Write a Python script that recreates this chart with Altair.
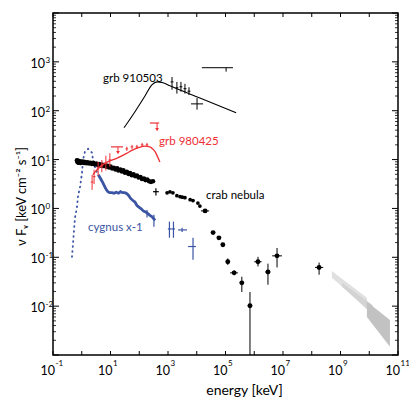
import altair as alt
import pandas as pd

FONT = "Lato"
W, H = 345, 342
BLUE = "#3b55a4"
RED = "#ee3035"
X_DOM = [1e-1, 1e11]
Y_DOM = [1e-3, 1e4]

# ---------------- data ----------------
# Crab nebula: dense X-ray band
crab_band_e = [0.68, 0.72, 0.76, 0.8, 0.85, 0.9, 0.95, 1.0, 1.1, 1.2, 1.3, 1.45, 1.6, 1.8, 2.0,
               2.25, 2.5, 2.8, 3.2, 3.6, 4.0, 4.5, 5.0, 5.6, 6.3, 7.1, 8.0, 9.0, 10,
               11.5, 13, 15, 17, 19, 22, 25, 28, 32, 37, 42, 48, 55, 63,
               72, 83, 95, 110, 125, 145, 165, 190, 220, 255, 300]
crab_band_f = [9.6, 8.8, 9.4, 8.6, 9.2, 8.5, 9.0, 8.8, 9.1, 8.5, 8.9, 8.4, 8.8, 8.3, 8.6,
               8.2, 8.6, 8.0, 8.3, 7.8, 8.1, 7.6, 7.9, 7.4, 7.7, 7.2, 7.4, 6.9, 7.2,
               6.6, 6.8, 6.3, 6.6, 6.0, 6.2, 5.7, 6.0, 5.4, 5.6, 5.1, 5.3, 4.8, 5.0,
               4.6, 4.7, 4.3, 4.4, 4.0, 4.1, 3.8, 3.9, 3.6, 3.5, 3.6]
# Crab nebula: 1-15 MeV points
crab_mid_e = [930, 1170, 1480, 2040, 2630, 3160, 3890, 5890, 7410, 10960, 12880]
crab_mid_f = [2.09, 2.19, 2.09, 1.82, 1.74, 1.70, 1.66, 1.51, 1.45, 1.29, 1.12]
# Crab nebula: points with error bars
crab_err_e = [1.95e4, 3.7e4, 5.9e4, 8.1e4, 1.2e5, 2.0e5, 3.7e5, 7.1e5, 1.35e6, 3.0e6, 6.2e6, 1.8e8]
crab_err_f = [0.89, 0.32, 0.25, 0.18, 0.081, 0.048, 0.030, 0.0102, 0.081, 0.050, 0.107, 0.062]
crab_err_elo = [1.4e4, 3.5e4, 5.6e4, 7.7e4, 1.05e5, 1.45e5, 3.1e5, 5.9e5, 1.0e6, 2.4e6, 4.2e6, 1.3e8]
crab_err_ehi = [2.7e4, 3.9e4, 6.2e4, 8.5e4, 1.4e5, 2.7e5, 4.4e5, 8.5e5, 1.8e6, 3.6e6, 9.2e6, 2.5e8]
crab_err_flo = [0.86, 0.31, 0.24, 0.175, 0.07, 0.043, 0.0195, 0.001, 0.065, 0.0275, 0.062, 0.044]
crab_err_fhi = [0.92, 0.33, 0.26, 0.185, 0.095, 0.054, 0.040, 0.0195, 0.102, 0.074, 0.155, 0.078]
# Crab nebula: single cross without dot
crab_cross_e = [380]
crab_cross_f = [2.2]
crab_cross_elo = [300]
crab_cross_ehi = [480]
crab_cross_flo = [1.85]
crab_cross_fhi = [2.6]

# Cygnus X-1: dotted soft component
cyg_dot_e = [0.457, 0.582, 0.684, 0.741, 0.871, 1.02, 1.10, 1.29, 1.66, 2.29, 2.45, 2.88, 3.72]
cyg_dot_f = [0.102, 0.646, 1.07, 1.74, 2.75, 5.37, 9.77, 14.5, 16.6, 13.8, 9.77, 7.08, 4.90]
# Cygnus X-1: hard X-ray spectrum
cyg_e = [3.72, 4.0, 4.6, 5.5, 6.3, 7.2, 8.1, 9.3, 11.2, 13.2, 15.8, 19.1, 22.4, 26.3, 31.6, 37.2,
         42.7, 50.1, 60.3, 70.8, 83.2, 100, 117, 141, 166, 200, 234, 275, 316, 355]
cyg_f = [4.9, 4.6, 4.0, 3.3, 2.8, 2.4, 2.2, 2.1, 2.1, 2.05, 2.15, 2.05, 2.2, 2.1, 2.1, 2.0,
         1.85, 1.6, 1.45, 1.35, 1.15, 1.05, 0.98, 0.88, 0.85, 0.78, 0.72, 0.68, 0.62, 0.57]
cyg_bar_e = [186, 324]
cyg_bar_flo = [0.65, 0.42]
cyg_bar_fhi = [0.93, 0.74]
# Cygnus X-1: MeV crosses
cyg_x_e = [1122, 1549, 3090, 7413]
cyg_x_f = [0.38, 0.38, 0.363, 0.166]
cyg_x_elo = [990, 1300, 2239, 5012]
cyg_x_ehi = [1300, 1750, 4571, 9333]
cyg_x_flo = [0.251, 0.251, 0.33, 0.089]
cyg_x_fhi = [0.537, 0.537, 0.40, 0.251]

# GRB 980425: model curve
g98_curve_e = [2.45, 4.3, 8, 17, 35, 60, 100, 160, 234, 300, 355, 430, 525]
g98_curve_f = [4.9, 7.1, 9.0, 10.7, 13.2, 15.8, 17.8, 18.8, 18.2, 16.3, 14.5, 11.5, 8.9]
# GRB 980425: data
g98_e = [2.29, 2.69, 3.72, 5.0, 6.9, 9.5, 37, 56, 83, 126, 186]
g98_f = [3.47, 4.47, 6.76, 7.4, 8.5, 9.8, 16.6, 18.2, 18.2, 20.0, 20.0]
g98_elo = [2.05, 2.4, 3.3, 4.5, 6.2, 8.5, 33, 50, 75, 113, 168]
g98_ehi = [2.55, 3.0, 4.2, 5.6, 7.7, 10.6, 41, 62, 92, 140, 206]
g98_flo = [2.4, 3.16, 4.68, 5.5, 6.0, 7.1, 15.0, 16.5, 16.5, 18.2, 18.2]
g98_fhi = [4.9, 6.17, 8.9, 9.8, 12.0, 13.5, 18.4, 20.0, 20.0, 22.0, 22.0]
# GRB 980425: upper limits
ul_e = [18.2, 417]
ul_elo = [10.4, 234]
ul_ehi = [27.2, 490]
ul_f = [18.2, 56]
ul_ftip = [13.8, 41]

# GRB 910503: model curve
g91_curve_e = [29.5, 71, 158, 275, 417, 676, 1175, 12900, 2.34e5]
g91_curve_f = [44.7, 95.5, 200, 339, 389, 372, 324, 182, 91]
# GRB 910503: data crosses
g91_e = [1380, 2040, 2820, 3890, 5370, 10230, 1.05e5]
g91_f = [389, 295, 309, 282, 251, 138, 759]
g91_elo = [1230, 1820, 2510, 3470, 4790, 6310, 1.51e4]
g91_ehi = [1550, 2290, 3160, 4370, 6030, 16600, 1.82e5]
g91_flo = [269, 224, 245, 224, 209, 105, 631]
g91_fhi = [490, 389, 389, 355, 302, 182, 759]

# GeV butterflies
band_name = ["a", "a", "b", "b", "c", "c"]
band_e = [5.0e8, 8.3e9, 1.12e9, 1.3e10, 8.3e9, 5.25e10]
band_top = [0.0525, 0.0148, 0.0302, 0.0105, 0.0123, 0.0052]
band_bot = [0.038, 0.0093, 0.0251, 0.0068, 0.0060, 0.00148]
band_colors = ["#e0e0e0", "#d3d3d3", "#c2c2c2"]

# labels
label_text = ["grb 910503", "grb 980425", "crab nebula", "cygnus x-1"]
label_e = [5.5, 490, 2.09e4, 1.66]
label_f = [447, 22.9, 1.82, 0.40]
label_color = ["black", RED, "black", BLUE]

# axis ticks
x_ticks = [10.0 ** k for k in range(-1, 12)]
x_label_vals = [1e-1, 1e1, 1e3, 1e5, 1e7, 1e9, 1e11]
x_label_exp = ["-1", "1", "3", "5", "7", "9", "11"]
y_major = [10.0 ** k for k in range(-3, 5)]
y_minor = [m * 10.0 ** k for k in range(-3, 4) for m in range(2, 10)]
y_label_vals = [1e-2, 1e-1, 1, 1e1, 1e2, 1e3]
y_label_exp = ["-2", "-1", "0", "1", "2", "3"]

# ---------------- encodings ----------------
x_axis = alt.Axis(title="energy [keV]", labels=False, ticks=False, domain=False, grid=False,
                  titleFont=FONT, titleFontSize=14, titleFontWeight="normal", titleColor="black",
                  titleX=191, titleY=35, titleBaseline="middle", titleAlign="center")
y_axis = alt.Axis(title="ν Fᵥ [keV cm⁻² s⁻¹]", labels=False, ticks=False, domain=False, grid=False,
                  titleFont=FONT, titleFontSize=13, titleFontWeight="normal", titleColor="black",
                  titleX=-32, titleY=183, titleBaseline="middle", titleAlign="center", titleAngle=270)


def X(f):
    return alt.X(f, type="quantitative", scale=alt.Scale(type="log", domain=X_DOM, nice=False),
                 axis=x_axis)


def Y(f):
    return alt.Y(f, type="quantitative", scale=alt.Scale(type="log", domain=Y_DOM, nice=False),
                 axis=y_axis)


def errbars(df, color, width=1.0):
    c = alt.Chart(df)
    h = c.mark_rule(color=color, strokeWidth=width).encode(x=X("elo"), x2="ehi", y=Y("f"))
    v = c.mark_rule(color=color, strokeWidth=width).encode(x=X("e"), y=Y("flo"), y2="fhi")
    return [h, v]


layers = []

# gray butterflies
bands = pd.DataFrame({"band": band_name, "e": band_e, "top": band_top, "bot": band_bot})
layers.append(alt.Chart(bands).mark_area(opacity=1).encode(
    x=X("e"), y=Y("top"), y2="bot",
    color=alt.Color("band:N", scale=alt.Scale(domain=["a", "b", "c"], range=band_colors), legend=None)))

# Cygnus X-1
layers.append(alt.Chart(pd.DataFrame({"e": cyg_dot_e, "f": cyg_dot_f})).mark_line(
    color=BLUE, strokeWidth=1.8, strokeDash=[0.8, 4.2], strokeCap="round").encode(x=X("e"), y=Y("f")))
layers.append(alt.Chart(pd.DataFrame({"e": cyg_e, "f": cyg_f})).mark_line(
    color=BLUE, strokeWidth=2.8).encode(x=X("e"), y=Y("f")))
layers.append(alt.Chart(pd.DataFrame({"e": cyg_bar_e, "flo": cyg_bar_flo, "fhi": cyg_bar_fhi})).mark_rule(
    color=BLUE, strokeWidth=1.2).encode(x=X("e"), y=Y("flo"), y2="fhi"))
cygx = pd.DataFrame({"e": cyg_x_e, "f": cyg_x_f, "elo": cyg_x_elo, "ehi": cyg_x_ehi,
                     "flo": cyg_x_flo, "fhi": cyg_x_fhi})
layers += errbars(cygx, BLUE, 1.2)

# Crab nebula
layers.append(alt.Chart(pd.DataFrame({"e": crab_band_e, "f": crab_band_f})).mark_circle(
    color="black", size=22, opacity=1).encode(x=X("e"), y=Y("f")))
layers.append(alt.Chart(pd.DataFrame({"e": crab_mid_e, "f": crab_mid_f})).mark_circle(
    color="black", size=14, opacity=1).encode(x=X("e"), y=Y("f")))
crabe = pd.DataFrame({"e": crab_err_e, "f": crab_err_f, "elo": crab_err_elo, "ehi": crab_err_ehi,
                      "flo": crab_err_flo, "fhi": crab_err_fhi})
layers += errbars(crabe, "black", 1.0)
layers.append(alt.Chart(crabe).mark_circle(color="black", size=24, opacity=1).encode(x=X("e"), y=Y("f")))
crabc = pd.DataFrame({"e": crab_cross_e, "f": crab_cross_f, "elo": crab_cross_elo, "ehi": crab_cross_ehi,
                      "flo": crab_cross_flo, "fhi": crab_cross_fhi})
layers += errbars(crabc, "black", 1.2)

# GRB 980425
layers.append(alt.Chart(pd.DataFrame({"e": g98_curve_e, "f": g98_curve_f})).mark_line(
    color=RED, strokeWidth=1.3, interpolate="monotone").encode(x=X("e"), y=Y("f")))
g98 = pd.DataFrame({"e": g98_e, "f": g98_f, "elo": g98_elo, "ehi": g98_ehi, "flo": g98_flo, "fhi": g98_fhi})
layers += errbars(g98, RED, 1.0)
ul = pd.DataFrame({"e": ul_e, "elo": ul_elo, "ehi": ul_ehi, "f": ul_f, "ftip": ul_ftip})
layers.append(alt.Chart(ul).mark_rule(color=RED, strokeWidth=1.2).encode(x=X("elo"), x2="ehi", y=Y("f")))
layers.append(alt.Chart(ul).mark_rule(color=RED, strokeWidth=1.0).encode(x=X("e"), y=Y("f"), y2="ftip"))
layers.append(alt.Chart(ul).mark_point(color=RED, shape="triangle-down", filled=True, size=14, opacity=1).encode(
    x=X("e"), y=Y("ftip")))

# GRB 910503
layers.append(alt.Chart(pd.DataFrame({"e": g91_curve_e, "f": g91_curve_f})).mark_line(
    color="black", strokeWidth=1.1, interpolate="monotone").encode(x=X("e"), y=Y("f")))
g91 = pd.DataFrame({"e": g91_e, "f": g91_f, "elo": g91_elo, "ehi": g91_ehi, "flo": g91_flo, "fhi": g91_fhi})
layers += errbars(g91, "black", 1.0)

# source labels
labs = pd.DataFrame({"t": label_text, "e": label_e, "f": label_f, "c": label_color})
layers.append(alt.Chart(labs).mark_text(align="left", baseline="middle", font=FONT, fontSize=11.5).encode(
    x=X("e"), y=Y("f"), text="t:N", color=alt.Color("c:N", scale=None)))

# ticks (inward, mirrored)
xt = alt.Chart(pd.DataFrame({"v": x_ticks}))
layers.append(xt.mark_rule(color="black", strokeWidth=1).encode(x=X("v"), y=alt.value(H), y2=alt.value(H - 4)))
layers.append(xt.mark_rule(color="black", strokeWidth=1).encode(x=X("v"), y=alt.value(0), y2=alt.value(4)))
ytM = alt.Chart(pd.DataFrame({"v": y_major}))
layers.append(ytM.mark_rule(color="black", strokeWidth=1).encode(y=Y("v"), x=alt.value(0), x2=alt.value(6)))
layers.append(ytM.mark_rule(color="black", strokeWidth=1).encode(y=Y("v"), x=alt.value(W), x2=alt.value(W - 6)))
ytm = alt.Chart(pd.DataFrame({"v": y_minor}))
layers.append(ytm.mark_rule(color="black", strokeWidth=0.8).encode(y=Y("v"), x=alt.value(0), x2=alt.value(3)))
layers.append(ytm.mark_rule(color="black", strokeWidth=0.8).encode(y=Y("v"), x=alt.value(W), x2=alt.value(W - 3)))

# tick labels
xl = alt.Chart(pd.DataFrame({"v": x_label_vals, "exp": x_label_exp}))
layers.append(xl.mark_text(align="right", baseline="alphabetic", font=FONT, fontSize=12.5, dx=2, color="black").encode(
    x=X("v"), y=alt.value(H + 20), text=alt.value("10")))
layers.append(xl.mark_text(align="left", baseline="alphabetic", font=FONT, fontSize=8, dx=2.5, color="black").encode(
    x=X("v"), y=alt.value(H + 11), text="exp:N"))
yl = alt.Chart(pd.DataFrame({"v": y_label_vals, "exp": y_label_exp}))
layers.append(yl.mark_text(align="right", baseline="alphabetic", font=FONT, fontSize=12.5, dy=6, color="black").encode(
    y=Y("v"), x=alt.value(-8), text=alt.value("10")))
layers.append(yl.mark_text(align="left", baseline="alphabetic", font=FONT, fontSize=8, dy=1, color="black").encode(
    y=Y("v"), x=alt.value(-7.5), text="exp:N"))

chart = alt.layer(*layers).properties(
    width=W, height=H,
    autosize=alt.AutoSizeParams(type="none"),
    padding={"left": 45, "top": 5, "right": 11, "bottom": 46},
).configure_view(stroke="black", strokeWidth=1.5)

chart.save("out.html", embed_options={"renderer": "svg", "actions": False})
